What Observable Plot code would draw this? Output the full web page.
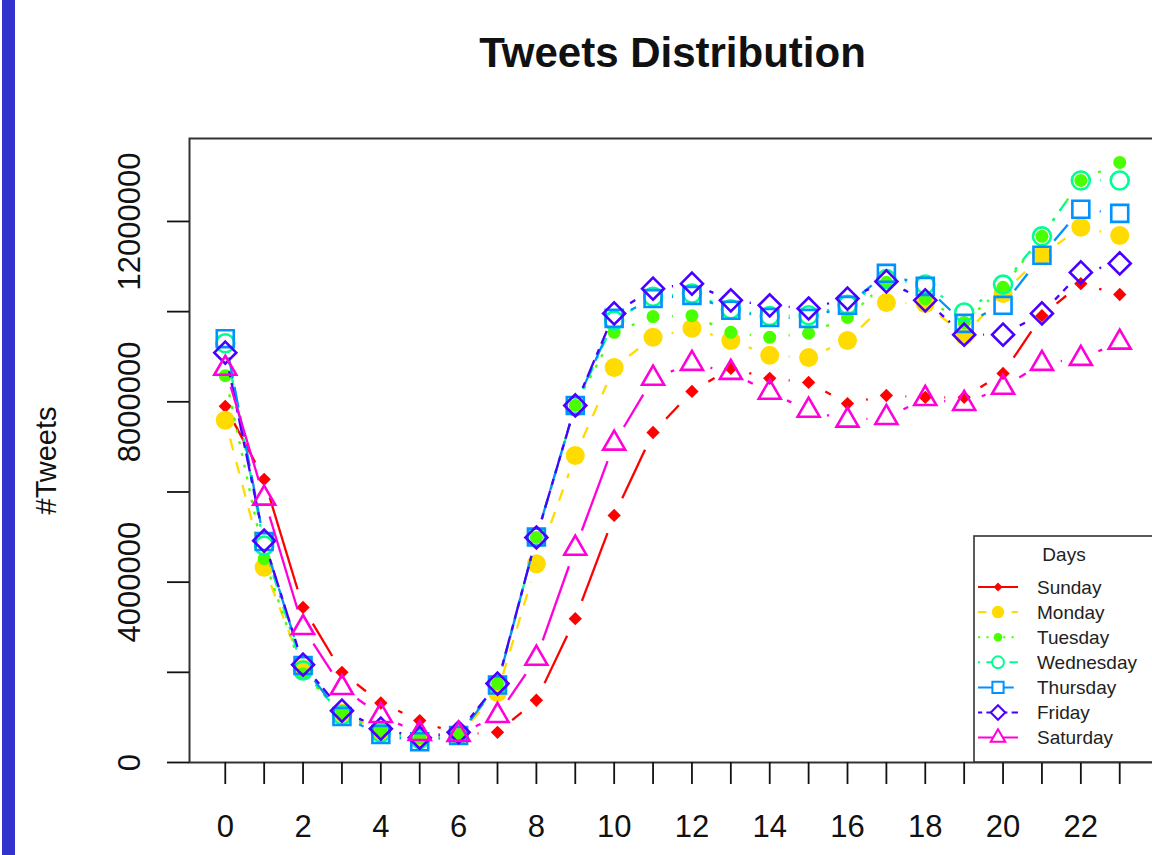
<!DOCTYPE html>
<html><head><meta charset="utf-8">
<script src="https://cdn.jsdelivr.net/npm/d3@7"></script>
<script src="https://cdn.jsdelivr.net/npm/@observablehq/plot@0.6"></script>
<style>
html,body{margin:0;padding:0;background:#fff;overflow:hidden;width:1152px;height:855px;}
#wrap{position:relative;width:1152px;height:855px;overflow:hidden;font-family:"Liberation Sans",Arial,Helvetica,sans-serif;}
#bar{position:absolute;left:2px;top:0;width:13px;height:855px;background:#3232cc;}
#chart{position:absolute;left:0;top:0;}
#legend{position:absolute;left:973px;top:535px;}
</style></head><body>
<div id="wrap"><div id="bar"></div><div id="chart"></div><svg id="legend" width="190" height="232"></svg></div>
<script>
// ---- data ----
const hours = [0,1,2,3,4,5,6,7,8,9,10,11,12,13,14,15,16,17,18,19,20,21,22,23];
const days = ["Sunday","Monday","Tuesday","Wednesday","Thursday","Friday","Saturday"];
const sunday    = [7900000,6280000,3440000,2000000,1320000,930000,620000,670000,1380000,3190000,5480000,7320000,8230000,8740000,8520000,8430000,7960000,8140000,8100000,8100000,8630000,9910000,10620000,10380000];
const monday    = [7590000,4330000,2080000,1100000,680000,530000,620000,1550000,4410000,6810000,8760000,9430000,9630000,9360000,9030000,8980000,9360000,10200000,10180000,9470000,10400000,11250000,11870000,11690000];
const tuesday   = [8580000,4520000,1970000,1110000,710000,550000,620000,1750000,4990000,7920000,9540000,9890000,9910000,9540000,9430000,9520000,9870000,10650000,10290000,9760000,10540000,11670000,12910000,13310000];
const wednesday = [9300000,4810000,2040000,1050000,660000,520000,620000,1730000,4990000,7900000,9800000,10330000,10400000,10050000,9900000,9920000,10150000,10720000,10600000,9980000,10600000,11670000,12910000,12910000];
const thursday  = [9400000,4900000,2150000,1020000,620000,460000,600000,1720000,5000000,7920000,9850000,10290000,10360000,10030000,9870000,9850000,10140000,10850000,10560000,9740000,10140000,11250000,12270000,12180000];
const friday    = [9090000,4920000,2170000,1150000,750000,550000,670000,1750000,4990000,7920000,9960000,10510000,10620000,10250000,10140000,10070000,10290000,10670000,10250000,9490000,9490000,9960000,10870000,11070000];
const saturday  = [8740000,5860000,2990000,1660000,1040000,640000,620000,1040000,2310000,4750000,7080000,8520000,8850000,8650000,8210000,7810000,7590000,7650000,8070000,7960000,8320000,8850000,8960000,9320000];
const yTicks = [0,2000000,4000000,6000000,8000000,10000000,12000000];
const yLabels = [0,4000000,8000000,12000000];
const xLabels = [0,2,4,6,8,10,12,14,16,18,20,22];
const title = "Tweets Distribution";
const yTitle = "#Tweets";
const legendTitle = "Days";

// ---- styles ----
const series = [sunday,monday,tuesday,wednesday,thursday,friday,saturday];
const colors = ["#FF0000","#FFDB00","#49FF00","#00FF92","#0092FF","#4900FF","#FF00DB"];
const dashes = [null,"12 12","3 9","3 9 12 9","21 9","6 6 18 6",null];
const symbols = ["diamond2","circle","circle","circle","square2","diamond2","triangle2"];
const d3symbols = [d3.symbolDiamond2,d3.symbolCircle,d3.symbolCircle,d3.symbolCircle,d3.symbolSquare2,d3.symbolDiamond2,d3.symbolTriangle2];
const filled = [true,true,true,false,false,false,false];
const radii = [6,9.5,6.5,9,10.8,9.9,10.5];
const font = "'Liberation Sans', Arial, Helvetica, sans-serif";

const W = 1152, H = 855, mL = 189, mR = -3, mT = 138, mB = 93;
const xDomain = [-0.92, 23.92], yDomain = [0, 13840000];
// library scales, used to open R-style (type="b") gaps around the points
const xs = Plot.scale({x: {domain: xDomain, range: [mL, W - mR]}});
const ys = Plot.scale({y: {domain: yDomain, range: [H - mB, mT]}});
const GAP = 19;

const marks = [];
days.forEach((day, k) => {
  const vals = series[k];
  const pts = hours.map((h, i) => ({day, hour: h, tweets: vals[i]}));
  const segs = [];
  for (let i = 0; i < hours.length - 1; i++) {
    const px1 = xs.apply(hours[i]), py1 = ys.apply(vals[i]);
    const px2 = xs.apply(hours[i + 1]), py2 = ys.apply(vals[i + 1]);
    const L = Math.hypot(px2 - px1, py2 - py1);
    if (L <= 2 * GAP) continue;
    const ux = (px2 - px1) / L, uy = (py2 - py1) / L;
    segs.push({
      h1: xs.invert(px1 + ux * GAP), v1: ys.invert(py1 + uy * GAP),
      h2: xs.invert(px2 - ux * GAP), v2: ys.invert(py2 - uy * GAP)
    });
  }
  const linkOpts = {x1: "h1", y1: "v1", x2: "h2", y2: "v2", stroke: colors[k], strokeWidth: 2.3};
  if (dashes[k]) linkOpts.strokeDasharray = dashes[k];
  marks.push(Plot.link(segs, linkOpts));
  const dotOpts = {x: "hour", y: "tweets", symbol: () => symbols[k], r: radii[k]};
  if (filled[k]) { dotOpts.fill = colors[k]; dotOpts.stroke = "none"; }
  else { dotOpts.fill = "none"; dotOpts.stroke = colors[k]; dotOpts.strokeWidth = 2.6; }
  marks.push(Plot.dot(pts, dotOpts));
});

const chart = Plot.plot({
  width: W, height: H,
  marginLeft: mL, marginRight: mR, marginTop: mT, marginBottom: mB,
  style: {fontFamily: font, color: "#111", background: "transparent", maxWidth: "none"},
  x: {domain: xDomain},
  y: {domain: yDomain},
  symbol: {type: "identity"},
  marks: [
    Plot.frame({stroke: "#333", strokeWidth: 2}),
    Plot.axisX({ticks: hours, tickFormat: d => xLabels.includes(d) ? String(d) : "", tickSize: 22, tickPadding: 30, fontSize: 31, strokeWidth: 1.8, label: null}),
    Plot.axisY({ticks: yTicks, tickFormat: d => yLabels.includes(d) ? String(d) : "", tickSize: 22, tickPadding: 28, tickRotate: -90, fontSize: 31, strokeWidth: 1.8, label: null}),
    Plot.text([title], {text: d => d, frameAnchor: "top", dy: -101, lineAnchor: "top", fontSize: 42, fontWeight: "bold", fill: "#111"}),
    Plot.text([yTitle], {text: d => d, frameAnchor: "left", textAnchor: "middle", dx: -143, dy: 10, rotate: -90, fontSize: 29, fill: "#111"}),
    ...marks
  ]
});
document.getElementById("chart").appendChild(chart);

// ---- legend (R-style) ----
const lg = d3.select("#legend").style("font-family", font);
lg.append("rect").attr("x", 1).attr("y", 1).attr("width", 200).attr("height", 226)
  .attr("fill", "#fff").attr("stroke", "#333").attr("stroke-width", 1.6);
lg.append("text").attr("x", 91).attr("y", 19).attr("dy", "0.35em").attr("text-anchor", "middle")
  .attr("font-size", 19).attr("fill", "#222").text(legendTitle);
const lScale = 0.66;
days.forEach((day, k) => {
  const y = 52 + k * 25.1;
  const g = lg.append("g");
  const ln = g.append("line").attr("x1", 5).attr("x2", 45).attr("y1", y).attr("y2", y)
    .attr("stroke", colors[k]).attr("stroke-width", 2);
  if (dashes[k]) ln.attr("stroke-dasharray", dashes[k].split(" ").map(v => v * 0.7).join(" "));
  const r = radii[k] * lScale;
  const path = d3.symbol(d3symbols[k], Math.PI * r * r)();
  const s = g.append("path").attr("d", path).attr("transform", `translate(25,${y})`);
  if (filled[k]) s.attr("fill", colors[k]);
  else s.attr("fill", "#fff").attr("stroke", colors[k]).attr("stroke-width", 2);
  g.append("text").attr("x", 64).attr("y", y).attr("dy", "0.35em").attr("font-size", 19)
    .attr("fill", "#222").text(day);
});
</script>
</body></html>
